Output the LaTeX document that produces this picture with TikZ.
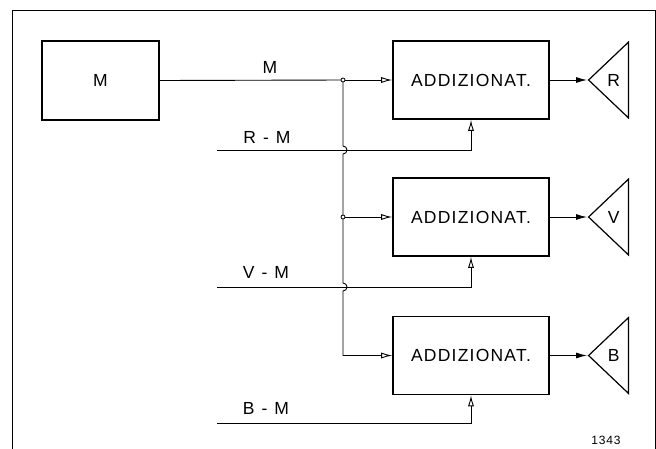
\documentclass[tikz,border=0pt]{standalone}
\usepackage{fontspec}
\setmainfont{Liberation Sans}[LetterSpace=7]
\usetikzlibrary{positioning,arrows.meta,shapes.geometric}

\begin{document}
\begin{tikzpicture}[x=1pt, y=-1pt, font=\fontsize{17.5}{18}\selectfont,
  blk/.style={draw, line width=1.6pt, minimum width=156pt, minimum height=78pt, inner sep=0pt},
  amp/.style={draw, line width=1.2pt, isosceles triangle, shape border rotate=180,
    isosceles triangle stretches, minimum width=76pt, minimum height=40pt, inner sep=0pt},
  wire/.style={line width=0.9pt},
  inarrow/.style={wire, -{Latex[open,length=11pt,width=6pt]}},
  outarrow/.style={wire, -{Latex[length=11pt,width=6pt]}},
  dot/.style={draw, fill=white, line width=0.8pt}]
\useasboundingbox (0,0) rectangle (656,448);
\draw[line width=0.8pt] (12,470) -- (12,10) -- (655,10) -- (655,470);

% blocks
\node[draw, line width=1.6pt, minimum width=117pt, minimum height=79pt] (mbox) at (100.5,80.5) {M};
\node[blk] (addR) at (471,80) {ADDIZIONAT.};
\node[blk] (addV) at (471,217) {ADDIZIONAT.};
\node[blk] (addB) at (471,355.5) {ADDIZIONAT.};
\node[amp, anchor=apex] (ampR) at (587,80) {R};
\node[amp, anchor=apex] (ampV) at (587,217) {V};
\node[amp, anchor=apex] (ampB) at (587,355.5) {B};

% inputs
\coordinate (jR) at (343,80);
\coordinate (jV) at (343,217);
\coordinate (rmIn) at (217,150);
\coordinate (vmIn) at (217,287);
\coordinate (bmIn) at (217,423);
\node (lblM) at (270,67) {M};
\node (lblR) at (267,137) {R\hspace{7pt}-\hspace{7pt}M};
\node (lblV) at (266,272) {V\hspace{7pt}-\hspace{7pt}M};
\node (lblB) at (266,408) {B\hspace{7pt}-\hspace{7pt}M};

% signal M to the three adders
\draw[wire] (mbox.east) -- (jR);
\draw[inarrow] (jR) -- (addR.west);
\draw[inarrow] (jV) -- (addV.west);
\draw[inarrow] (jR) -- ++(0,66) arc[start angle=-90, end angle=90, radius=4]
  -- ++(0,129) arc[start angle=-90, end angle=90, radius=4]
  -- (jR |- addB.west) -- (addB.west);
\draw[dot] (jR) circle (2pt);
\draw[dot] (jV) circle (2pt);

% difference signals
\draw[inarrow] (rmIn) -- (rmIn -| addR.south) -- (addR.south);
\draw[inarrow] (vmIn) -- (vmIn -| addV.south) -- (addV.south);
\draw[inarrow] (bmIn) -- (bmIn -| addB.south) -- (addB.south);

% outputs
\draw[outarrow] (addR.east) -- (ampR.apex);
\draw[outarrow] (addV.east) -- (ampV.apex);
\draw[outarrow] (addB.east) -- (ampB.apex);

\node[font=\fontsize{12}{12}\selectfont] (fig) at (606,440) {1343};
\end{tikzpicture}
\end{document}
